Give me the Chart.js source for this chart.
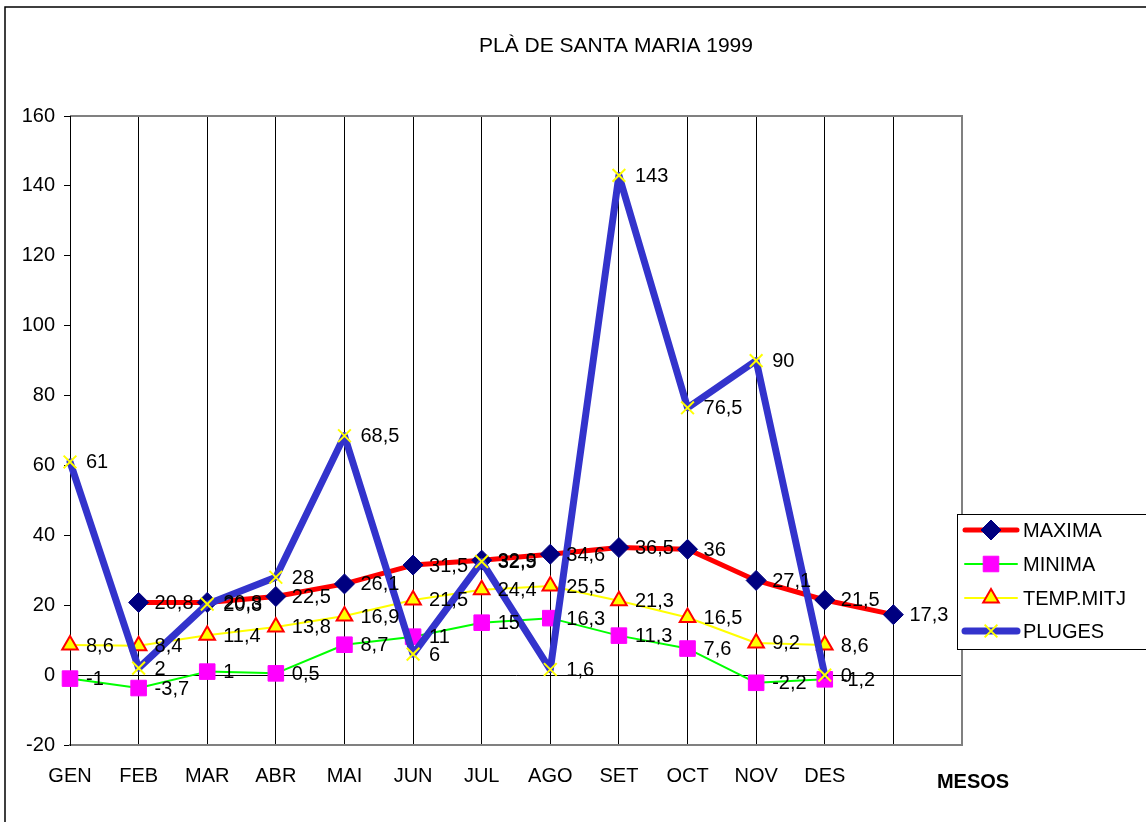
<!DOCTYPE html>
<html>
<head>
<meta charset="utf-8">
<script src="https://cdn.jsdelivr.net/npm/chart.js@4/dist/chart.umd.min.js"></script>
<style>
  html, body { margin: 0; padding: 0; background: #fff; }
  #wrap { width: 1146px; height: 822px; }
</style>
</head>
<body>
<div id="wrap"><canvas id="chart" width="1146" height="822"></canvas></div>
<script>
// dades del gràfic
var mesos = ['GEN', 'FEB', 'MAR', 'ABR', 'MAI', 'JUN', 'JUL', 'AGO', 'SET', 'OCT', 'NOV', 'DES', '', ''];
var maxima = [null, 20.8, 20.8, 22.5, 26.1, 31.5, 32.9, 34.6, 36.5, 36, 27.1, 21.5, 17.3, null];
var minima = [-1, -3.7, 1, 0.5, 8.7, 11, 15, 16.3, 11.3, 7.6, -2.2, -1.2, null, null];
var tempMitj = [8.6, 8.4, 11.4, 13.8, 16.9, 21.5, 24.4, 25.5, 21.3, 16.5, 9.2, 8.6, null, null];
var pluges = [61, 2, 20.3, 28, 68.5, 6, 32.5, 1.6, 143, 76.5, 90, 0, null, null];
var yTicks = [-20, 0, 20, 40, 60, 80, 100, 120, 140, 160];

var FONT = '"Liberation Sans", Arial, sans-serif';

function fmt(v) { return String(v).replace('.', ','); }

// marc, títol, etiquetes i llegenda
var decor = {
  id: 'decor',
  beforeDraw: function(chart) {
    var ctx = chart.ctx;
    ctx.save();
    ctx.strokeStyle = '#000';
    ctx.lineWidth = 1.5;
    ctx.beginPath();
    ctx.moveTo(5, 830); ctx.lineTo(5, 7); ctx.lineTo(1150, 7);
    ctx.stroke();
    ctx.restore();
  },
  beforeDatasetsDraw: function(chart) {
    var a = chart.chartArea, ctx = chart.ctx;
    ctx.save();
    ctx.strokeStyle = '#808080';
    ctx.lineWidth = 2;
    ctx.beginPath();
    ctx.moveTo(a.left, a.top); ctx.lineTo(a.right, a.top); ctx.lineTo(a.right, a.bottom);
    ctx.stroke();
    ctx.strokeStyle = '#000';
    ctx.lineWidth = 1;
    ctx.beginPath();
    ctx.moveTo(a.left + 0.5, a.top); ctx.lineTo(a.left + 0.5, a.bottom);
    ctx.stroke();
    ctx.restore();
  },
  afterDatasetsDraw: function(chart) {
    var ctx = chart.ctx;
    ctx.save();
    ctx.font = '20px ' + FONT;
    ctx.fillStyle = '#000';
    ctx.textAlign = 'left';
    ctx.textBaseline = 'middle';
    chart.data.datasets.forEach(function(ds, i) {
      var meta = chart.getDatasetMeta(i);
      meta.data.forEach(function(pt, j) {
        var v = ds.data[j];
        if (v === null || v === undefined) return;
        ctx.fillText(fmt(v), pt.x + 16, pt.y + 1);
      });
    });
    ctx.restore();
  },
  afterDraw: function(chart) {
    var ctx = chart.ctx;
    ctx.save();
    ctx.fillStyle = '#000';
    ctx.textBaseline = 'middle';
    ctx.textAlign = 'center';
    ctx.font = '21px ' + FONT;
    ctx.fillText('PLÀ DE SANTA MARIA 1999', 616, 46);
    ctx.font = 'bold 20px ' + FONT;
    ctx.fillText('MESOS', 973, 782);

    // llegenda
    ctx.strokeStyle = '#000';
    ctx.lineWidth = 1;
    ctx.fillStyle = '#fff';
    ctx.fillRect(957.5, 514.5, 200, 135);
    ctx.strokeRect(957.5, 514.5, 200, 135);
    var rows = [530, 564, 598, 631];
    chart.data.datasets.forEach(function(ds, i) {
      var y = rows[i];
      ctx.strokeStyle = ds.borderColor;
      ctx.lineWidth = ds.borderWidth;
      ctx.lineCap = 'round';
      ctx.beginPath();
      ctx.moveTo(965, y); ctx.lineTo(1017, y);
      ctx.stroke();
      ctx.lineCap = 'butt';
      ctx.fillStyle = ds.pointBackgroundColor;
      ctx.strokeStyle = ds.pointBorderColor;
      ctx.lineWidth = ds.pointBorderWidth;
      Chart.helpers.drawPoint(ctx, {
        pointStyle: ds.pointStyle,
        radius: ds.pointRadius,
        borderWidth: ds.pointBorderWidth,
        rotation: 0
      }, 991, y);
      ctx.fillStyle = '#000';
      ctx.textAlign = 'left';
      ctx.font = '20px ' + FONT;
      ctx.fillText(ds.label, 1023, y + 1);
    });
    ctx.restore();
  }
};

new Chart(document.getElementById('chart').getContext('2d'), {
  type: 'line',
  data: {
    labels: mesos,
    datasets: [
      {
        label: 'MAXIMA', data: maxima, order: 4,
        borderColor: '#FF0000', borderWidth: 5,
        pointStyle: 'rectRot', pointRadius: 10,
        pointBackgroundColor: '#000080', pointBorderColor: '#000080', pointBorderWidth: 1
      },
      {
        label: 'MINIMA', data: minima, order: 3,
        borderColor: '#00FF00', borderWidth: 2,
        pointStyle: 'rect', pointRadius: 11,
        pointBackgroundColor: '#FF00FF', pointBorderColor: '#FF00FF', pointBorderWidth: 1
      },
      {
        label: 'TEMP.MITJ', data: tempMitj, order: 2,
        borderColor: '#FFFF00', borderWidth: 2,
        pointStyle: 'triangle', pointRadius: 9,
        pointBackgroundColor: '#FFFF00', pointBorderColor: '#FF0000', pointBorderWidth: 2
      },
      {
        label: 'PLUGES', data: pluges, order: 1,
        borderColor: '#3333CC', borderWidth: 7,
        pointStyle: 'crossRot', pointRadius: 9,
        pointBackgroundColor: '#FFFF00', pointBorderColor: '#FFFF00', pointBorderWidth: 2
      }
    ]
  },
  options: {
    responsive: false,
    animation: false,
    events: [],
    layout: { padding: { top: 116, right: 184, bottom: 0, left: 0 } },
    elements: { line: { tension: 0, fill: false, borderJoinStyle: 'round', borderCapStyle: 'round' } },
    datasets: { line: { clip: false, spanGaps: false } },
    plugins: {
      legend: { display: false },
      title: { display: false },
      tooltip: { enabled: false }
    },
    scales: {
      x: {
        offset: false,
        grid: { display: true, drawTicks: false, color: '#000', lineWidth: 1 },
        border: { display: true, color: '#808080', width: 2 },
        ticks: { color: '#000', font: { family: FONT, size: 20 }, padding: 19, maxRotation: 0, autoSkip: false },
        afterFit: function(s) { s.height = 77; }
      },
      y: {
        min: -20, max: 160,
        afterBuildTicks: function(s) { s.ticks = yTicks.map(function(v) { return { value: v }; }); },
        grid: {
          drawOnChartArea: true, drawTicks: true, tickLength: 6, tickColor: '#000',
          color: function(c) { return c.tick && c.tick.value === 0 ? '#000' : 'rgba(0,0,0,0)'; }
        },
        border: { display: true, color: '#000', width: 1 },
        ticks: { color: '#000', font: { family: FONT, size: 20 }, padding: 9 },
        afterFit: function(s) { s.width = 70; }
      }
    }
  },
  plugins: [decor]
});
</script>
</body>
</html>
